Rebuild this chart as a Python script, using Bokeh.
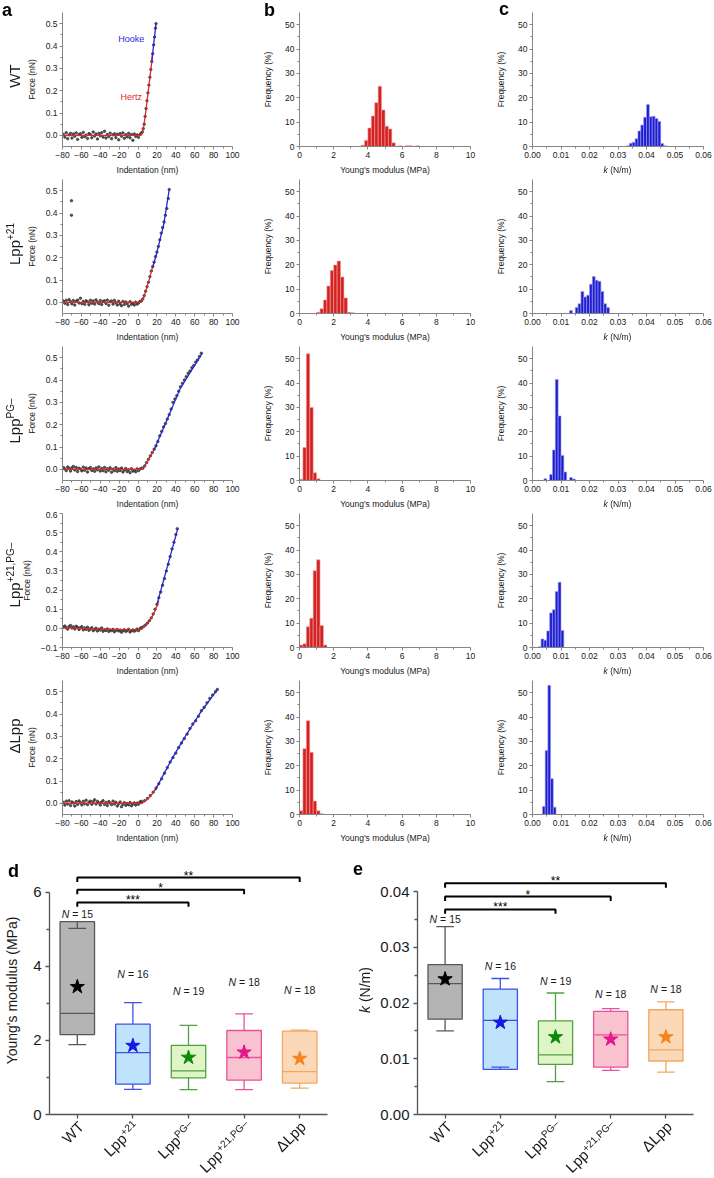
import math
from bokeh.plotting import figure
from bokeh.layouts import column, row
from bokeh.models import Range1d, FixedTicker, Label, NumeralTickFormatter, Div
from bokeh.embed import file_html
from bokeh.resources import INLINE

# ------------------------------------------------------------------ data
STRAINS = ["WT", "Lpp", "Lpp", "Lpp", "ΔLpp"]
STRAIN_SUPS = ["", "+21", "PG–", "+21,PG–", ""]

# force curves: baseline (non-contact) points
BASE_X = [-79, -77.5, -76, -74.5, -73, -71.5, -70, -68.5,
          -67, -65.5, -64, -62.5, -61, -59.5, -58, -56.5,
          -55, -53.5, -52, -50.5, -49, -47.5, -46, -44.5,
          -43, -41.5, -40, -38.5, -37, -35.5, -34, -32.5,
          -31, -29.5, -28, -26.5, -25, -23.5, -22, -20.5,
          -19, -17.5, -16, -14.5, -13, -11.5, -10, -8.5,
          -7, -5.5, -4, -2.5, -1, 0.5, 2, 3.5]
BASE_WT = [0.004, -0.008, 0.012, -0.015, 0.002, 0.009, -0.012, 0.006,
           -0.004, 0.011, -0.018, 0.003, 0.007, -0.009, 0.013, -0.006,
           0.001, -0.014, 0.008, 0.004, -0.011, 0.015, -0.003, 0.006,
           -0.016, 0.009, -0.002, 0.012, -0.008, 0.018, -0.012, 0.004,
           -0.006, 0.010, -0.015, 0.002, 0.007, -0.010, 0.005, -0.020,
           0.008, -0.004, 0.011, -0.013, 0.003, -0.007, 0.009, -0.011,
           0.004, -0.022, 0.006, -0.005, 0.002, -0.009, 0.004, 0.010]
BASE_P21 = [0.006, -0.004, 0.009, -0.010, 0.012, 0.003, -0.007, 0.008,
            -0.012, 0.005, 0.010, -0.003, 0.018, -0.006, 0.004, -0.009,
            0.007, 0.002, -0.011, 0.009, -0.004, 0.006, -0.008, 0.011,
            0.001, -0.006, 0.008, -0.010, 0.004, 0.007, -0.005, 0.010,
            -0.013, 0.003, 0.006, -0.008, 0.009, -0.002, -0.012, 0.005,
            -0.007, -0.015, 0.004, -0.010, 0.002, -0.006, -0.017, 0.003,
            -0.009, -0.004, -0.012, 0.001, -0.008, -0.003, 0.004, 0.006]
BASE_PG = [0.008, 0.002, -0.006, 0.011, 0.004, -0.008, 0.007, 0.013,
           -0.003, 0.009, -0.010, 0.005, 0.001, -0.007, 0.010, -0.004,
           0.006, -0.012, 0.003, 0.008, -0.005, 0.002, -0.009, 0.006,
           -0.002, 0.011, -0.008, 0.004, -0.006, 0.009, -0.011, 0.003,
           -0.004, 0.007, -0.013, 0.001, -0.006, 0.008, -0.009, 0.002,
           -0.005, 0.006, -0.012, -0.003, 0.004, -0.010, -0.002, -0.015,
           0.003, -0.008, -0.004, -0.011, 0.002, -0.006, 0.001, 0.005]
BASE_P21PG = [0.006, 0.012, 0.003, -0.004, 0.010, 0.015, 0.002, 0.008,
              -0.003, 0.011, 0.005, -0.006, 0.004, 0.009, -0.008, 0.002,
              -0.005, 0.006, -0.010, -0.002, 0.003, -0.012, -0.006, 0.001,
              -0.014, -0.004, -0.009, 0.002, -0.015, -0.007, -0.011, -0.003,
              -0.016, -0.008, -0.012, -0.005, -0.018, -0.010, -0.006, -0.014,
              -0.009, -0.020, -0.012, -0.007, -0.016, -0.011, -0.005, -0.019,
              -0.013, -0.008, -0.015, -0.010, -0.004, -0.012, -0.002, 0.004]
BASE_DLPP = [0.004, -0.008, 0.010, -0.003, 0.012, -0.010, 0.006, 0.001,
             -0.012, 0.008, -0.005, 0.011, 0.003, -0.007, 0.009, -0.002,
             0.014, -0.006, 0.005, 0.010, -0.004, 0.007, 0.016, -0.003,
             0.009, 0.002, -0.008, 0.006, 0.012, -0.005, 0.004, -0.010,
             0.008, 0.001, -0.006, 0.010, -0.003, 0.005, -0.012, -0.002,
             0.006, -0.015, -0.004, 0.003, -0.009, -0.001, -0.007, 0.004,
             -0.011, -0.003, 0.002, -0.008, 0.001, -0.004, 0.006, 0.009]
BASE_Y = [BASE_WT, BASE_P21, BASE_PG, BASE_P21PG, BASE_DLPP]

# force curves: contact-region points
RISE_X = [
    [4.5, 5.5, 6.5, 7.5, 8.5, 9.5, 10.5, 11.5, 12.5, 13.5, 14.5, 15.5, 16.5, 17.5, 18.5, 19.0],
    [5, 6.5, 8, 9.5, 11, 12.5, 14, 15.5, 17, 18.5, 20, 21.5, 23, 24.5, 26, 27.5, 29, 30.5, 32, 33, -70.5, -70.5],
    [5, 7, 9, 11, 13, 15, 17, 19, 21, 23, 25, 27, 29, 31, 33, 35, 37, 39, 41, 43, 45, 47, 49, 51,
     53, 55, 57, 59, 61, 63, 65, 67],
    [4, 6, 8, 10, 12, 14, 16, 18, 20, 22, 24, 26, 28, 30, 32, 34, 36, 38, 40, 41.5],
    [4, 7, 10, 13, 16, 19, 22, 25, 28, 31, 34, 37, 40, 43, 46, 49, 52, 55, 58, 61, 64, 67, 70, 73,
     76, 79, 82, 84],
]
RISE_Y = [
    [0.015, 0.03, 0.05, 0.085, 0.12, 0.155, 0.19, 0.225, 0.26, 0.295, 0.33, 0.365, 0.405, 0.44, 0.48, 0.50],
    [0.015, 0.03, 0.05, 0.07, 0.09, 0.115, 0.14, 0.16, 0.18, 0.205, 0.225, 0.25, 0.28, 0.31, 0.335,
     0.36, 0.39, 0.42, 0.465, 0.505, 0.455, 0.39],
    [0.005, 0.015, 0.03, 0.045, 0.06, 0.075, 0.09, 0.105, 0.125, 0.15, 0.17, 0.19, 0.205, 0.225, 0.245,
     0.27, 0.30, 0.315, 0.33, 0.35, 0.37, 0.385, 0.40, 0.415, 0.43, 0.44, 0.455, 0.465, 0.48, 0.49,
     0.505, 0.52],
    [0.002, 0.01, 0.018, 0.028, 0.04, 0.055, 0.075, 0.10, 0.125, 0.16, 0.19, 0.225, 0.26, 0.30, 0.335,
     0.375, 0.415, 0.45, 0.49, 0.52],
    [0.004, 0.012, 0.022, 0.035, 0.05, 0.068, 0.088, 0.11, 0.135, 0.16, 0.185, 0.205, 0.225, 0.25,
     0.27, 0.29, 0.31, 0.335, 0.355, 0.37, 0.39, 0.415, 0.43, 0.45, 0.47, 0.485, 0.50, 0.51],
]
# fits
HERTZ_X = [[-80, 3, 4.5, 6, 8, 10, 12, 14, 15.5],
           [-80, 3, 5, 7, 9.5, 12, 14.5, 17],
           [-80, 3, 6, 9, 12, 15, 18],
           [-80, -40, 0, 3, 6, 9, 12, 15, 18, 21, 22],
           [-80, 3, 6, 9, 12, 15, 18, 21]]
HERTZ_Y = [[0, 0, 0.01, 0.04, 0.10, 0.17, 0.24, 0.31, 0.365],
           [0, 0, 0.012, 0.035, 0.068, 0.105, 0.145, 0.18],
           [0, 0, 0.01, 0.028, 0.05, 0.072, 0.095],
           [0.003, -0.004, -0.008, -0.004, 0.008, 0.022, 0.04, 0.062, 0.092, 0.13, 0.145],
           [0, 0, 0.006, 0.015, 0.027, 0.042, 0.06, 0.08]]
HOOKE_X = [[14.5, 19.0], [15.5, 20, 27, 33], [17, 30, 45, 68], [20, 42], [18, 36, 50, 65, 84]]
HOOKE_Y = [[0.33, 0.50], [0.155, 0.225, 0.345, 0.505], [0.088, 0.215, 0.365, 0.52], [0.125, 0.52],
           [0.058, 0.2, 0.3, 0.4, 0.51]]

# histograms of Young's modulus (MPa), bin width 0.2
E_LEFT = [[3.6, 3.8, 4.0, 4.2, 4.4, 4.6, 4.8, 5.0, 5.2, 5.4, 5.8, 6.2, 6.4, 6.8],
          [1.0, 1.2, 1.4, 1.6, 1.8, 2.0, 2.2, 2.4, 2.6, 2.8, 3.0],
          [0.0, 0.2, 0.4, 0.6, 0.8, 1.0],
          [0.0, 0.2, 0.4, 0.6, 0.8, 1.0, 1.2, 1.4],
          [0.0, 0.2, 0.4, 0.6, 0.8, 1.0, 1.2]]
E_FREQ = [[0.5, 2.5, 7.6, 12.5, 18, 24.7, 15, 8.3, 7.2, 1.5, 0.3, 0.3, 0.3, 0.3],
          [0.5, 2, 5.5, 11.3, 17.6, 19.9, 21.5, 15, 6.4, 0.5, 0.3],
          [0.5, 13.5, 52, 30, 3.2, 0.7],
          [1, 1.5, 8.5, 12, 31.5, 36, 9, 1],
          [1.5, 27, 38.5, 25.5, 5.5, 1.5, 0.3]]
E_BIN = 0.2
# histograms of spring constant k (N/m)
K_LEFT = [[0.033, 0.034, 0.035, 0.036, 0.037, 0.038, 0.039, 0.040, 0.041, 0.042, 0.043, 0.044, 0.045, 0.046],
          [0.013, 0.015, 0.016, 0.017, 0.018, 0.019, 0.020, 0.021, 0.022, 0.023, 0.024, 0.025, 0.026],
          [0.004, 0.006, 0.007, 0.008, 0.009, 0.010, 0.011, 0.013, 0.014],
          [0.002, 0.003, 0.004, 0.005, 0.006, 0.007, 0.008, 0.009, 0.010],
          [0.0035, 0.00445, 0.0054, 0.00635, 0.0073]]
K_FREQ = [[0.3, 1.3, 1.7, 3.2, 6.4, 8.8, 12, 17.2, 12.2, 12.4, 11.5, 10.3, 1.2, 0.3],
          [1.2, 2.5, 4, 9, 6.8, 7.5, 12, 15.2, 13.6, 13.2, 9, 4, 2.5],
          [0.7, 2.5, 12.5, 41.5, 26.5, 10.3, 3.5, 1.2, 0.6],
          [0.3, 3.5, 3, 6.8, 14.2, 15.5, 23, 26.8, 7],
          [3.3, 26.3, 53, 14.7, 3]]
K_BIN = [0.001, 0.001, 0.001, 0.001, 0.00095]

# box plots
N_CELLS = [15, 16, 19, 18, 18]
E_Q1 = [2.16, 0.82, 0.99, 0.93, 0.85]
E_MED = [2.73, 1.67, 1.18, 1.54, 1.16]
E_Q3 = [5.21, 2.44, 1.87, 2.27, 2.25]
E_WLO = [1.89, 0.68, 0.67, 0.67, 0.71]
E_WHI = [5.03, 3.02, 2.41, 2.72, 2.28]
E_MEAN = [3.45, 1.86, 1.54, 1.68, 1.51]
E_NLABEL_Y = [5.42, 3.8, 3.35, 3.57, 3.37]
K_Q1 = [0.0171, 0.0081, 0.0090, 0.0085, 0.0096]
K_MED = [0.0235, 0.0169, 0.0107, 0.0143, 0.0116]
K_Q3 = [0.0269, 0.0225, 0.0168, 0.0185, 0.0188]
K_WLO = [0.0150, 0.0085, 0.0059, 0.0079, 0.0076]
K_WHI = [0.0337, 0.0244, 0.0218, 0.0190, 0.0202]
K_MEAN = [0.0243, 0.0165, 0.0139, 0.0135, 0.0139]
K_NLABEL_Y = [0.0351, 0.0267, 0.0239, 0.0216, 0.0226]
SIG_TARGET = [2, 3, 4]
SIG_TEXT = ["***", "*", "**"]
SIG_E_Y = [5.73, 6.07, 6.40]
SIG_K_Y = [0.0368, 0.0391, 0.0415]

# ------------------------------------------------------------------ style
FONT = "Liberation Sans"
FONTCSS = "font-family:'Liberation Sans',Arial,sans-serif;"
TXT = "#1a1a1a"
AXC = "#858585"
RED = "#d42222"
RED_EDGE = "#f2a0a0"
BLUE = "#1e1ed0"
BLUE_EDGE = "#a0a0f4"
FIT_RED = "#e02a2a"
FIT_BLUE = "#2828d8"
DOT = "#383838"
BOX_FILL = ["#b4b4b4", "#bfe3fb", "#e0f5c6", "#f8c3cf", "#fbd8b8"]
BOX_LINE = ["#575757", "#3c52e6", "#52a044", "#e8529a", "#f4a65e"]
STAR_COL = ["#000000", "#1717e6", "#0b8a0b", "#e6178f", "#f5841f"]

# layout (pixels)
ROW_H = [177, 167, 167, 167, 167]
ROW_TOP = [12, 2, 2, 2, 2]
ROW_BOTTOM = 31
FRAME_H = 134
COL_W = [240, 236, 236]
COL_LEFT = [62, 59, 56]
COL_RIGHT = [8, 6, 9]
BOT_H = 331
BOT_TOP = 21
BOT_BOTTOM = 62
D_W, D_L, D_R = 355, 49, 28
E_W, E_L, E_R = 356, 62, 18


def lab(p, x, y, text, size, **kw):
    opts = dict(text_font=FONT, text_color=TXT, text_font_size=f"{size}px")
    opts.update(kw)
    p.add_layout(Label(x=x, y=y, text=text, **opts))


def style(p, tick_fs, label_fs, axc=AXC, tick_out=3, minor_out=2, lw=1):
    p.outline_line_color = None
    p.xgrid.visible = False
    p.ygrid.visible = False
    for ax in p.axis:
        ax.axis_line_color = axc
        ax.axis_line_width = lw
        ax.major_tick_line_color = axc
        ax.minor_tick_line_color = axc
        ax.major_tick_line_width = lw
        ax.minor_tick_line_width = lw
        ax.major_tick_in = 0
        ax.major_tick_out = tick_out
        ax.minor_tick_in = 0
        ax.minor_tick_out = minor_out
        ax.major_label_text_font = FONT
        ax.major_label_text_font_size = tick_fs
        ax.major_label_text_color = TXT
        ax.major_label_standoff = 2
        ax.axis_label_text_font = FONT
        ax.axis_label_text_font_size = label_fs
        ax.axis_label_text_font_style = "normal"
        ax.axis_label_text_color = TXT


def minus(v, fmt):
    s = fmt % abs(v)
    return ("−" + s) if v < 0 else s


force_figs, e_figs, k_figs = [], [], []
for i in range(5):
    common = dict(height=ROW_H[i], output_backend="svg", toolbar_location=None,
                  min_border_top=ROW_TOP[i], min_border_bottom=ROW_BOTTOM)
    # ---------------- force curve
    yr = (-0.1, 0.6) if i == 3 else (-0.05, 0.55)
    p = figure(width=COL_W[0], x_range=Range1d(-80, 100), y_range=Range1d(*yr),
               min_border_left=COL_LEFT[0], min_border_right=COL_RIGHT[0], **common)
    p.scatter(BASE_X + RISE_X[i], BASE_Y[i] + RISE_Y[i], size=2.4, color=DOT, alpha=0.85)
    p.line(HERTZ_X[i], HERTZ_Y[i], color=FIT_RED, line_width=1.3)
    p.line(HOOKE_X[i], HOOKE_Y[i], color=FIT_BLUE, line_width=1.3)
    style(p, "8.5px", "8.5px")
    p.xaxis.axis_label = "Indentation (nm)"
    p.yaxis.axis_label = "Force (nN)"
    p.xaxis.axis_label_standoff = 4
    p.yaxis.axis_label_standoff = 6
    xt = [-80, -60, -40, -20, 0, 20, 40, 60, 80, 100]
    p.xaxis.ticker = FixedTicker(ticks=xt, minor_ticks=[-70, -50, -30, -10, 10, 30, 50, 70, 90])
    p.xaxis.major_label_overrides = {t: minus(t, "%d") for t in xt}
    if i == 3:
        yt = [-0.1, 0.0, 0.1, 0.2, 0.3, 0.4, 0.5, 0.6]
        ym = [-0.05, 0.05, 0.15, 0.25, 0.35, 0.45, 0.55]
    else:
        yt = [0.0, 0.1, 0.2, 0.3, 0.4, 0.5]
        ym = [0.05, 0.15, 0.25, 0.35, 0.45]
    p.yaxis.ticker = FixedTicker(ticks=yt, minor_ticks=ym)
    p.yaxis.major_label_overrides = {t: minus(t, "%.1f") for t in yt}
    if i == 0:
        lab(p, -7.3, 0.43, "Hooke", 9, text_color=FIT_BLUE, text_align="center", text_baseline="middle")
        lab(p, -7.2, 0.17, "Hertz", 9, text_color=FIT_RED, text_align="center", text_baseline="middle")
    force_figs.append(p)

    # ---------------- Young's modulus histogram
    q = figure(width=COL_W[1], x_range=Range1d(0, 10), y_range=Range1d(0, 55),
               min_border_left=COL_LEFT[1], min_border_right=COL_RIGHT[1], **common)
    q.quad(left=E_LEFT[i], right=[v + E_BIN for v in E_LEFT[i]], bottom=0, top=E_FREQ[i],
           fill_color=RED, line_color=RED_EDGE, line_width=0.6)
    style(q, "8.5px", "8.5px")
    q.xaxis.axis_label = "Young's modulus (MPa)"
    q.yaxis.axis_label = "Frequency (%)"
    q.xaxis.axis_label_standoff = 4
    q.yaxis.axis_label_standoff = 9
    q.xaxis.ticker = FixedTicker(ticks=[0, 2, 4, 6, 8, 10], minor_ticks=[1, 3, 5, 7, 9])
    q.yaxis.ticker = FixedTicker(ticks=[0, 10, 20, 30, 40, 50], minor_ticks=[5, 15, 25, 35, 45])
    e_figs.append(q)

    # ---------------- spring constant histogram
    r = figure(width=COL_W[2], x_range=Range1d(0, 0.06), y_range=Range1d(0, 55),
               min_border_left=COL_LEFT[2], min_border_right=COL_RIGHT[2], **common)
    r.quad(left=K_LEFT[i], right=[v + K_BIN[i] for v in K_LEFT[i]], bottom=0, top=K_FREQ[i],
           fill_color=BLUE, line_color=BLUE_EDGE, line_width=0.6)
    style(r, "8.5px", "8.5px")
    r.yaxis.axis_label = "Frequency (%)"
    r.yaxis.axis_label_standoff = 9
    r.xaxis.ticker = FixedTicker(ticks=[0, 0.01, 0.02, 0.03, 0.04, 0.05, 0.06],
                                 minor_ticks=[0.005, 0.015, 0.025, 0.035, 0.045, 0.055])
    r.xaxis.formatter = NumeralTickFormatter(format="0.00")
    r.yaxis.ticker = FixedTicker(ticks=[0, 10, 20, 30, 40, 50], minor_ticks=[5, 15, 25, 35, 45])
    k_figs.append(r)


def box_panel(width, left_b, right_b, ymax, q1, med, q3, wlo, whi, mean, nly, ticks, minor, sig_y, dh):
    p = figure(width=width, height=BOT_H, x_range=Range1d(-0.5, 4.5), y_range=Range1d(0, ymax),
               output_backend="svg", toolbar_location=None,
               min_border_left=left_b, min_border_right=right_b, min_border_top=BOT_TOP,
               min_border_bottom=BOT_BOTTOM)
    xs = list(range(5))
    hw, cw = 0.31, 0.16
    p.quad(left=[x - hw for x in xs], right=[x + hw for x in xs], bottom=q1, top=q3,
           fill_color=BOX_FILL, line_color=BOX_LINE, line_width=1.3)
    p.segment(x0=[x - hw for x in xs], x1=[x + hw for x in xs], y0=med, y1=med, color=BOX_LINE, line_width=1.3)
    p.segment(x0=xs, x1=xs, y0=q3, y1=whi, color=BOX_LINE, line_width=1.3)
    p.segment(x0=xs, x1=xs, y0=q1, y1=wlo, color=BOX_LINE, line_width=1.3)
    p.segment(x0=[x - cw for x in xs], x1=[x + cw for x in xs], y0=whi, y1=whi, color=BOX_LINE, line_width=1.3)
    p.segment(x0=[x - cw for x in xs], x1=[x + cw for x in xs], y0=wlo, y1=wlo, color=BOX_LINE, line_width=1.3)
    p.scatter(xs, mean, marker="star", size=15, fill_color=STAR_COL, line_color=STAR_COL)
    for t, h, s in zip(SIG_TARGET, sig_y, SIG_TEXT):
        p.line([0, 0, t, t], [h - dh, h, h, h - dh], color="#000000", line_width=2)
        lab(p, t / 2, h, s, 12, text_align="center", text_baseline="middle", y_offset=2,
            text_color="#000000")
    for x, n, y in zip(xs, N_CELLS, nly):
        lab(p, x, y, "N", 10.5, text_font_style="italic", text_align="right", text_baseline="middle",
            x_offset=-8)
        lab(p, x, y, "= %d" % n, 10.5, text_align="left", text_baseline="middle", x_offset=-5)
    style(p, "15px", "14px", axc="#555555", tick_out=4, minor_out=3, lw=1.3)
    p.yaxis.ticker = FixedTicker(ticks=ticks, minor_ticks=minor)
    p.yaxis.bounds = (0, ticks[-1])
    p.yaxis.major_label_standoff = 4
    p.xaxis.ticker = FixedTicker(ticks=xs, minor_ticks=[])
    p.xaxis.major_label_overrides = {x: "" for x in xs}
    return p


pd = box_panel(D_W, D_L, D_R, 6.7, E_Q1, E_MED, E_Q3, E_WLO, E_WHI, E_MEAN, E_NLABEL_Y,
               [0, 2, 4, 6], [1, 3, 5], SIG_E_Y, 0.12)
pd.yaxis.axis_label = "Young's modulus (MPa)"
pd.yaxis.axis_label_standoff = 10

pe = box_panel(E_W, E_L, E_R, 0.0445, K_Q1, K_MED, K_Q3, K_WLO, K_WHI, K_MEAN, K_NLABEL_Y,
               [0, 0.01, 0.02, 0.03, 0.04], [0.005, 0.015, 0.025, 0.035], SIG_K_Y, 0.0008)
pe.yaxis.formatter = NumeralTickFormatter(format="0.00")

# ------------------------------------------------------------------ text that sits outside plot frames
ov = []


def fixed(html, left, top, size, transform="none", origin="50% 50%", extra=""):
    ov.append(
        f'<span style="position:fixed;left:{left:.1f}px;top:{top:.1f}px;{FONTCSS}font-size:{size}px;'
        f'line-height:1;white-space:nowrap;color:{TXT};transform:{transform};transform-origin:{origin};'
        f'z-index:10;{extra}">{html}</span>')


def strain_html(base, sup, sup_size, raise_px):
    if not sup:
        return base
    return (f'{base}<span style="font-size:{sup_size}px;position:relative;top:-{raise_px}px">'
            f'{sup}</span>')


row_y0 = [sum(ROW_H[:i]) for i in range(5)]
frame_top = [row_y0[i] + ROW_TOP[i] for i in range(5)]
frame_bot = [t + FRAME_H for t in frame_top]
ROW_LABEL_DY = [-3, -2, 8, -5, -11]
for i in range(5):
    cy = (frame_top[i] + frame_bot[i]) / 2 + ROW_LABEL_DY[i]
    fixed(strain_html(STRAINS[i], STRAIN_SUPS[i], 10, 6), 14, cy, 15,
          transform="translate(-50%,-50%) rotate(-90deg)")
    # italic k axis title under spring-constant histograms
    cx = COL_W[0] + COL_W[1] + COL_LEFT[2] + (COL_W[2] - COL_LEFT[2] - COL_RIGHT[2]) / 2
    fixed("<i>k</i> (N/m)", cx, frame_bot[i] + 24, 8.5, transform="translate(-50%,-50%)")

# panel letters
fixed("a", 2, 1, 18, extra="font-weight:bold;color:#000")
fixed("b", 264, 1, 18, extra="font-weight:bold;color:#000")
fixed("c", 499, 0, 18, extra="font-weight:bold;color:#000")
bot_y0 = sum(ROW_H)
fixed("d", 8, bot_y0 + 17, 18, extra="font-weight:bold;color:#000")
fixed("e", 353, bot_y0 + 15, 18, extra="font-weight:bold;color:#000")

# rotated category labels under the box plots
axis_y = bot_y0 + BOT_H - BOT_BOTTOM
for x0, lb, wd, rb in [(0, D_L, D_W, D_R), (D_W, E_L, E_W, E_R)]:
    fw = wd - lb - rb
    for i in range(5):
        tx = x0 + lb + (i + 0.5) * fw / 5
        fixed(strain_html(STRAINS[i], STRAIN_SUPS[i], 10, 5), tx + 4, axis_y + 10, 15,
              transform="translate(-100%,-50%) rotate(-45deg)", origin="100% 50%")

# y-axis title of panel e
fixed("<i>k</i> (N/m)", D_W + 10, bot_y0 + BOT_TOP + (BOT_H - BOT_TOP - BOT_BOTTOM) / 2, 14,
      transform="translate(-50%,-50%) rotate(-90deg)")

overlay = Div(text="".join(ov), width=1, height=1)

rows = [row(force_figs[i], e_figs[i], k_figs[i]) for i in range(5)]
rows.append(row(pd, pe, overlay))
layout = column(*rows)
open("out.html", "w").write(file_html(layout, INLINE, title="AFM nanoindentation"))
